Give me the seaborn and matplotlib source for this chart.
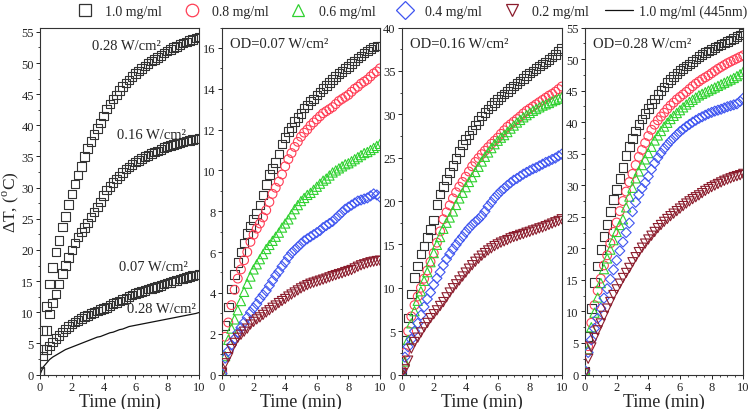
import numpy as np
import pandas as pd
import matplotlib
matplotlib.use("Agg")
import matplotlib.pyplot as plt
from matplotlib.lines import Line2D
from matplotlib.ticker import MultipleLocator, AutoMinorLocator
import seaborn as sns

# sampling times (min)
time_min = [0.0, 0.2, 0.4, 0.6, 0.8, 1.0, 1.2, 1.4, 1.6, 1.8,
            2.0, 2.2, 2.4, 2.6, 2.8, 3.0, 3.2, 3.4, 3.6, 3.8,
            4.0, 4.2, 4.4, 4.6, 4.8, 5.0, 5.2, 5.4, 5.6, 5.8,
            6.0, 6.2, 6.4, 6.6, 6.8, 7.0, 7.2, 7.4, 7.6, 7.8,
            8.0, 8.2, 8.4, 8.6, 8.8, 9.0, 9.2, 9.4, 9.6, 9.8, 10.0]

# panel 1: 1.0 mg/ml at three power densities + 445 nm reference line
p1_028 = [0.5, 7.1, 10.9, 14.5, 17.2, 19.7, 21.5, 23.7, 25.4, 27.3,
          29.0, 30.6, 32.0, 33.4, 35.0, 36.3, 37.4, 38.5, 39.5, 40.4,
          41.5, 42.6, 43.4, 44.2, 44.9, 45.6, 46.2, 46.8, 47.3, 47.8,
          48.3, 48.7, 49.1, 49.5, 49.9, 50.3, 50.6, 50.9, 51.2, 51.6,
          51.9, 52.2, 52.5, 52.7, 53.0, 53.2, 53.4, 53.6, 53.8, 54.0, 54.2]
p1_016 = [0.3, 4.0, 7.1, 9.7, 11.5, 12.9, 14.5, 16.2, 17.5, 18.8,
          20.0, 21.1, 22.1, 22.9, 23.6, 24.3, 25.3, 26.1, 26.9, 27.7,
          28.7, 29.6, 30.2, 30.8, 31.4, 31.9, 32.4, 33.0, 33.3, 33.7,
          34.1, 34.4, 34.7, 35.0, 35.2, 35.5, 35.7, 35.9, 36.1, 36.4,
          36.6, 36.8, 36.9, 37.1, 37.2, 37.3, 37.5, 37.6, 37.7, 37.8, 37.9]
p1_007 = [0.5, 3.0, 4.0, 4.6, 5.2, 5.8, 6.3, 6.8, 7.3, 7.7,
          8.1, 8.4, 8.7, 9.0, 9.3, 9.5, 9.8, 10.0, 10.2, 10.4,
          10.6, 10.8, 11.1, 11.4, 11.6, 11.8, 12.0, 12.2, 12.5, 12.8,
          13.0, 13.2, 13.3, 13.5, 13.7, 13.8, 14.0, 14.1, 14.3, 14.5,
          14.7, 14.8, 15.0, 15.1, 15.3, 15.4, 15.6, 15.7, 15.9, 16.0, 16.1]
p1_445 = [0.0, 1.2, 1.8, 2.4, 2.8, 3.1, 3.4, 3.7, 4.0, 4.2,
          4.4, 4.6, 4.8, 5.0, 5.2, 5.4, 5.6, 5.8, 6.0, 6.1,
          6.3, 6.5, 6.7, 6.8, 7.0, 7.2, 7.3, 7.5, 7.7, 7.8,
          7.9, 8.0, 8.1, 8.2, 8.3, 8.4, 8.5, 8.6, 8.7, 8.8,
          8.9, 9.0, 9.1, 9.2, 9.3, 9.4, 9.5, 9.6, 9.7, 9.8, 9.95]

# panel 2: OD = 0.07 W/cm2
p2_10 = [0.1, 2.4, 3.3, 4.2, 4.9, 5.5, 6.0, 6.45, 6.9, 7.25,
         7.6, 7.9, 8.3, 8.8, 9.3, 9.8, 10.1, 10.4, 10.8, 11.3,
         11.6, 11.9, 12.1, 12.4, 12.6, 12.8, 13.05, 13.2, 13.4, 13.5,
         13.7, 13.85, 14.0, 14.15, 14.3, 14.45, 14.6, 14.75, 14.85, 15.0,
         15.1, 15.25, 15.35, 15.5, 15.6, 15.75, 15.85, 15.95, 16.05, 16.1, 16.1]
p2_08 = [0.1, 1.85, 2.55, 3.4, 4.15, 4.7, 5.15, 5.6, 6.0, 6.5,
         6.85, 7.15, 7.4, 7.7, 8.05, 8.45, 8.85, 9.15, 9.45, 9.8,
         10.2, 10.55, 10.85, 11.15, 11.4, 11.65, 11.85, 12.0, 12.2, 12.35,
         12.5, 12.65, 12.8, 12.9, 13.0, 13.1, 13.25, 13.4, 13.5, 13.6,
         13.7, 13.85, 14.0, 14.1, 14.25, 14.35, 14.45, 14.6, 14.75, 14.85, 15.0]
p2_06 = [0.1, 0.9, 1.7, 2.25, 2.7, 3.15, 3.6, 4.05, 4.45, 4.8,
         5.15, 5.4, 5.65, 5.9, 6.15, 6.35, 6.55, 6.75, 6.95, 7.2,
         7.4, 7.6, 7.85, 8.1, 8.3, 8.5, 8.65, 8.8, 8.9, 9.05,
         9.2, 9.35, 9.5, 9.6, 9.75, 9.9, 10.0, 10.1, 10.2, 10.3,
         10.35, 10.45, 10.55, 10.65, 10.75, 10.85, 10.9, 11.0, 11.1, 11.2, 11.3]
p2_04 = [0.05, 0.8, 1.15, 1.45, 1.75, 2.05, 2.3, 2.55, 2.8, 3.05,
         3.25, 3.45, 3.7, 3.9, 4.1, 4.35, 4.6, 4.85, 5.05, 5.3,
         5.5, 5.75, 5.95, 6.1, 6.25, 6.4, 6.55, 6.65, 6.75, 6.85,
         6.95, 7.05, 7.2, 7.3, 7.4, 7.5, 7.65, 7.8, 7.95, 8.1,
         8.2, 8.3, 8.4, 8.5, 8.55, 8.6, 8.65, 8.75, 8.85, 8.8, 8.7]
p2_02 = [0.1, 0.55, 0.85, 1.25, 1.55, 1.8, 1.95, 2.1, 2.25, 2.45,
         2.58, 2.7, 2.8, 2.92, 3.04, 3.15, 3.27, 3.38, 3.5, 3.6,
         3.7, 3.82, 3.92, 4.02, 4.12, 4.22, 4.3, 4.38, 4.45, 4.5,
         4.55, 4.6, 4.65, 4.7, 4.76, 4.82, 4.87, 4.92, 4.96, 5.02,
         5.07, 5.12, 5.2, 5.28, 5.35, 5.4, 5.45, 5.5, 5.53, 5.56, 5.58]

# panel 3: OD = 0.16 W/cm2
p3_10 = [0.3, 4.0, 6.5, 9.3, 11.2, 12.5, 13.9, 14.8, 15.8, 16.7,
         17.8, 19.6, 20.8, 21.7, 22.5, 23.3, 24.1, 24.9, 25.7, 26.5,
         27.1, 27.6, 28.2, 28.75, 29.3, 29.8, 30.2, 30.6, 31.0, 31.35,
         31.7, 32.05, 32.35, 32.65, 32.95, 33.25, 33.55, 33.85, 34.15, 34.45,
         34.75, 35.0, 35.3, 35.55, 35.8, 36.05, 36.3, 36.6, 36.9, 37.3, 37.6]
p3_08 = [0.5, 2.5, 5.0, 6.7, 8.0, 9.0, 10.0, 11.05, 12.0, 13.0,
         14.0, 15.2, 16.5, 17.9, 18.7, 19.5, 20.3, 21.0, 21.65, 22.2,
         22.8, 23.4, 24.0, 24.5, 24.95, 25.4, 25.8, 26.2, 26.6, 26.95,
         27.3, 27.75, 28.15, 28.55, 28.85, 29.15, 29.45, 29.75, 30.1, 30.4,
         30.65, 30.9, 31.15, 31.4, 31.65, 31.9, 32.15, 32.35, 32.6, 32.9, 33.2]
p3_06 = [0.3, 1.5, 4.0, 5.9, 7.3, 8.5, 9.6, 10.8, 11.8, 12.95,
         14.0, 14.95, 15.85, 16.8, 17.5, 18.1, 18.8, 19.55, 20.3, 20.95,
         21.6, 22.2, 22.75, 23.35, 23.95, 24.55, 25.1, 25.6, 26.1, 26.55,
         26.95, 27.3, 27.6, 27.95, 28.35, 28.7, 29.05, 29.35, 29.65, 29.9,
         30.15, 30.4, 30.6, 30.8, 31.0, 31.15, 31.3, 31.5, 31.65, 31.8, 31.95]
p3_04 = [0.3, 2.0, 3.2, 4.05, 5.0, 5.9, 6.85, 7.8, 8.7, 9.45,
         10.35, 11.1, 11.8, 12.6, 13.3, 13.9, 14.45, 14.95, 15.45, 15.9,
         16.4, 16.85, 17.25, 17.6, 17.9, 18.3, 18.8, 19.4, 19.85, 20.35,
         20.75, 21.15, 21.45, 21.8, 22.1, 22.4, 22.6, 22.85, 23.1, 23.3,
         23.5, 23.7, 23.85, 24.05, 24.25, 24.45, 24.6, 24.8, 24.95, 25.2, 25.4]
p3_02 = [0.2, 0.6, 1.6, 3.0, 3.75, 4.25, 4.85, 5.45, 5.95, 6.5,
         6.95, 7.4, 7.9, 8.35, 8.9, 9.45, 9.95, 10.4, 10.85, 11.3,
         11.75, 12.2, 12.6, 13.0, 13.35, 13.7, 14.0, 14.3, 14.55, 14.8,
         15.0, 15.2, 15.35, 15.5, 15.7, 15.85, 15.95, 16.1, 16.2, 16.35,
         16.45, 16.6, 16.7, 16.85, 16.95, 17.1, 17.25, 17.4, 17.55, 17.7, 17.9]

# panel 4: OD = 0.28 W/cm2
p4_10 = [0.5, 6.0, 10.5, 14.6, 17.2, 19.8, 21.9, 23.8, 25.8, 27.7,
         29.3, 31.1, 32.8, 34.7, 36.1, 37.4, 38.6, 39.6, 40.5, 41.4,
         42.2, 42.95, 43.7, 44.4, 45.0, 45.6, 46.3, 46.8, 47.25, 47.7,
         48.2, 48.55, 48.9, 49.25, 49.6, 50.0, 50.4, 50.7, 51.0, 51.3,
         51.55, 51.8, 52.05, 52.3, 52.55, 52.8, 53.05, 53.3, 53.55, 53.8, 54.1]
p4_08 = [0.5, 4.5, 8.2, 11.0, 13.3, 15.2, 17.3, 18.9, 20.8, 22.6,
         24.1, 25.9, 27.5, 29.0, 30.5, 31.8, 33.2, 34.5, 35.6, 36.7,
         37.8, 38.8, 39.6, 40.3, 40.9, 41.5, 42.1, 42.65, 43.1, 43.6,
         44.0, 44.4, 44.8, 45.25, 45.7, 46.1, 46.45, 46.8, 47.1, 47.4,
         47.75, 48.1, 48.45, 48.75, 49.05, 49.35, 49.6, 49.85, 50.1, 50.35, 50.6]
p4_06 = [0.7, 4.0, 7.5, 9.8, 12.2, 14.5, 16.7, 18.4, 19.8, 21.3,
         22.6, 23.7, 24.6, 26.5, 28.2, 29.6, 31.1, 32.2, 33.2, 34.1,
         35.1, 36.1, 37.1, 37.9, 38.6, 39.3, 39.9, 40.5, 41.0, 41.45,
         41.9, 42.35, 42.8, 43.2, 43.55, 43.9, 44.25, 44.5, 44.75, 45.0,
         45.25, 45.5, 45.75, 46.0, 46.25, 46.5, 46.75, 47.0, 47.3, 47.6, 48.0]
p4_04 = [0.6, 3.5, 5.5, 7.3, 8.9, 10.5, 12.1, 13.6, 15.1, 16.6,
         18.1, 19.6, 21.0, 22.5, 24.0, 25.8, 27.3, 28.5, 29.5, 30.4,
         31.4, 32.5, 33.5, 34.35, 35.1, 35.8, 36.4, 37.0, 37.5, 38.0,
         38.5, 38.9, 39.3, 39.65, 40.0, 40.3, 40.6, 40.85, 41.1, 41.35,
         41.55, 41.75, 41.9, 42.05, 42.25, 42.45, 42.6, 42.75, 42.9, 43.3, 43.8]
p4_02 = [0.2, 2.5, 4.3, 5.8, 7.0, 8.1, 9.3, 10.45, 11.5, 12.6,
         13.5, 14.4, 15.3, 16.1, 16.9, 17.8, 18.6, 19.4, 20.1, 20.75,
         21.4, 22.0, 22.6, 23.2, 23.7, 24.2, 24.65, 25.1, 25.5, 25.9,
         26.3, 26.7, 27.1, 27.45, 27.8, 28.1, 28.4, 28.75, 29.1, 29.4,
         29.7, 29.95, 30.2, 30.45, 30.7, 30.9, 31.1, 31.3, 31.45, 31.6, 31.8]

conc_labels = ["1.0 mg/ml", "0.8 mg/ml", "0.6 mg/ml", "0.4 mg/ml", "0.2 mg/ml"]
line_label = "1.0 mg/ml (445nm)"
colors = ["#333333", "#ff3d55", "#2fd12f", "#3f55f0", "#8b1c2c"]
markers = ["s", "o", "^", "D", "v"]
sizes = [38, 40, 44, 26, 44]

panel_titles = ["OD=0.07 W/cm²", "OD=0.16 W/cm²", "OD=0.28 W/cm²"]
panel_series = [[p2_10, p2_08, p2_06, p2_04, p2_02],
                [p3_10, p3_08, p3_06, p3_04, p3_02],
                [p4_10, p4_08, p4_06, p4_04, p4_02]]
panel_ylims = [17, 40, 55]
panel_ysteps = [2, 5, 5]

sns.set_theme(style="ticks")
plt.rcParams["font.family"] = ["Liberation Serif", "DejaVu Serif"]
plt.rcParams["mathtext.fontset"] = "custom"
plt.rcParams["mathtext.rm"] = "Liberation Serif"
plt.rcParams["axes.linewidth"] = 0.8
plt.rcParams["axes.edgecolor"] = "#333333"


def style_axis(ax, ymax, ystep):
    ax.set_xlim(0, 10)
    ax.set_ylim(0, ymax)
    ax.xaxis.set_major_locator(MultipleLocator(2))
    ax.xaxis.set_minor_locator(AutoMinorLocator(4))
    ax.yaxis.set_major_locator(MultipleLocator(ystep))
    ax.yaxis.set_minor_locator(AutoMinorLocator(2))
    ax.tick_params(which="major", direction="out", length=3, width=0.7,
                   labelsize=9, pad=1.5, colors="#222222")
    ax.tick_params(which="minor", direction="out", length=1.5, width=0.6)
    for sp in ax.spines.values():
        sp.set_visible(True)
    ax.set_xlabel("Time (min)", fontsize=13, labelpad=0)
    ax.set_ylabel("")


def draw_points(ax, yvals, i):
    sns.scatterplot(x=time_min, y=yvals, ax=ax, marker=markers[i], s=sizes[i],
                    color=colors[i], facecolor="none", edgecolor=colors[i],
                    linewidth=0.8, legend=False, zorder=3)


fig = plt.figure(figsize=(7.52, 4.10), dpi=100)
lefts = [0.0532, 0.2952, 0.5342, 0.7779]
widths = [0.2114, 0.2101, 0.2128, 0.2105]
axes = [fig.add_axes([l, 0.0841, w, 0.8463]) for l, w in zip(lefts, widths)]

# panel 1
ax = axes[0]
for yv in [p1_028, p1_016, p1_007]:
    draw_points(ax, yv, 0)
sns.lineplot(x=time_min, y=p1_445, ax=ax, color="#111111", linewidth=0.9,
             legend=False)
style_axis(ax, 55.7, 5)
ax.set_ylabel(r"ΔT, ($^{\mathrm{o}}$C)", fontsize=12.5, labelpad=0.5)
ax.text(3.3, 52.8, "0.28 W/cm²", fontsize=10.5, va="center")
ax.text(4.85, 38.6, "0.16 W/cm²", fontsize=10.5, va="center")
ax.text(5.0, 17.4, "0.07 W/cm²", fontsize=10.5, va="center")
ax.text(5.5, 10.6, "0.28 W/cm²", fontsize=10.5, va="center")

# panels 2-4
for k in range(3):
    ax = axes[k + 1]
    for i, yv in enumerate(panel_series[k]):
        draw_points(ax, yv, i)
    style_axis(ax, panel_ylims[k], panel_ysteps[k])
    ax.text(0.05, 0.955, panel_titles[k], transform=ax.transAxes,
            fontsize=10.5, va="center")

handles = [Line2D([], [], linestyle="none", marker=markers[i], markersize=9,
                  markerfacecolor="none", markeredgecolor=colors[i],
                  markeredgewidth=0.9) for i in range(5)]
handles.append(Line2D([], [], color="#111111", linewidth=0.9))
fig.legend(handles, conc_labels + [line_label], loc="center", ncol=6,
           bbox_to_anchor=(0.544, 0.97), frameon=False, fontsize=10,
           handlelength=2.0, handletextpad=0.45, columnspacing=1.15,
           borderpad=0.2)

fig.savefig("out.png", dpi=100)
